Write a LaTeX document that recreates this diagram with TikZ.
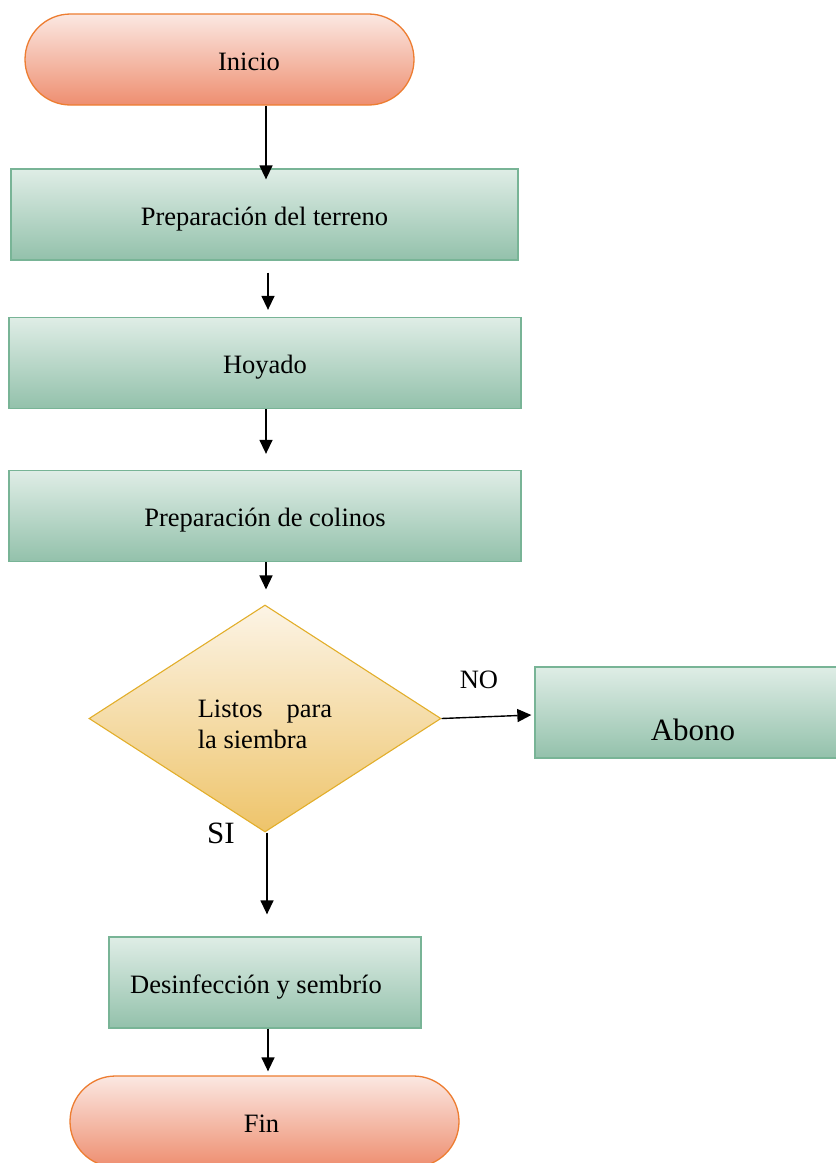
\documentclass[tikz,border=0pt]{standalone}
\usepackage{fontspec}
\setmainfont{Liberation Serif}
\usetikzlibrary{shapes.misc,shapes.geometric,arrows.meta,calc}
\definecolor{pinkT}{HTML}{FBE8E2}
\definecolor{pinkB}{HTML}{EE8E70}
\definecolor{pinkL}{HTML}{ED7D31}
\definecolor{greenT}{HTML}{DFEDE6}
\definecolor{greenB}{HTML}{93C1AB}
\definecolor{greenL}{HTML}{78B496}
\definecolor{goldT}{HTML}{FCF4E6}
\definecolor{goldB}{HTML}{EEC46A}
\definecolor{goldL}{HTML}{E2AE2A}
\tikzset{
  term/.style={rounded rectangle, draw=pinkL, line width=1.3pt, top color=pinkT, bottom color=pinkB, minimum width=389pt, minimum height=91pt, inner sep=0pt, text height=21pt, text depth=0pt},
  procbox/.style={rectangle, draw=greenL, line width=1.3pt, top color=greenT, bottom color=greenB, minimum height=91pt, inner sep=0pt, text height=21pt, text depth=0pt},
  decis/.style={diamond, draw=goldL, line width=1.1pt, top color=goldT, bottom color=goldB, minimum width=352pt, minimum height=227pt, inner sep=0pt, align=left},
  flow/.style={line width=1.4pt, -{Triangle[width=13pt,length=14pt]}},
  lbl/.style={inner sep=0pt}
}
\begin{document}
\begin{tikzpicture}[x=1pt,y=-1pt,font=\fontsize{26.5}{31}\selectfont]
\useasboundingbox (0,0) rectangle (836,1163);
\node[term] (inicio) at (219.5,59.5) {\hspace*{59pt}Inicio};
\node[procbox, minimum width=507pt] (b1) at (264.5,214.5) {Preparación del terreno};
\node[procbox, minimum width=512pt] (b2) at (265,363) {Hoyado};
\node[procbox, minimum width=512pt] (b3) at (265,516) {Preparación de colinos};
\node[decis] (d) at (265,718.5) {\rule{0pt}{30pt}Listos\hspace{24pt}para\\la siembra};
\node[procbox, minimum width=316pt, text height=55pt, font=\fontsize{31}{36}\selectfont] (abono) at (693,712.5) {Abono};
\node[procbox, minimum width=312pt] (desinf) at (265,982.5) {Desinfección y sembrío\hspace*{18pt}};
\node[term] (fin) at (264.5,1121.5) {Fin\hspace*{6pt}};
\node[lbl] (no) at (479,680) {NO};
\node[lbl, font=\fontsize{31}{36}\selectfont] (si) at (221,833) {SI};
\draw[flow] ($(inicio.south)+(46.5,0)$) -- ($(b1.north)+(1.5,11)$);
\draw[flow] ($(b1.south)+(3.5,12)$) -- ($(b2.north)+(3,-7)$);
\draw[flow] ($(b2.south)+(1,0)$) -- ($(b3.north)+(1,-16)$);
\draw[flow] ($(b3.south)+(1,0)$) -- ($(d.north)+(1,-15)$);
\draw[flow] (d.east) -- ($(abono.west)+(-3,2.5)$);
\draw[flow] ($(d.south)+(2,0)$) -- ($(desinf.north)+(2,-22)$);
\draw[flow] ($(desinf.south)+(3,0)$) -- ($(fin.north)+(3.5,-4)$);
\end{tikzpicture}
\end{document}
